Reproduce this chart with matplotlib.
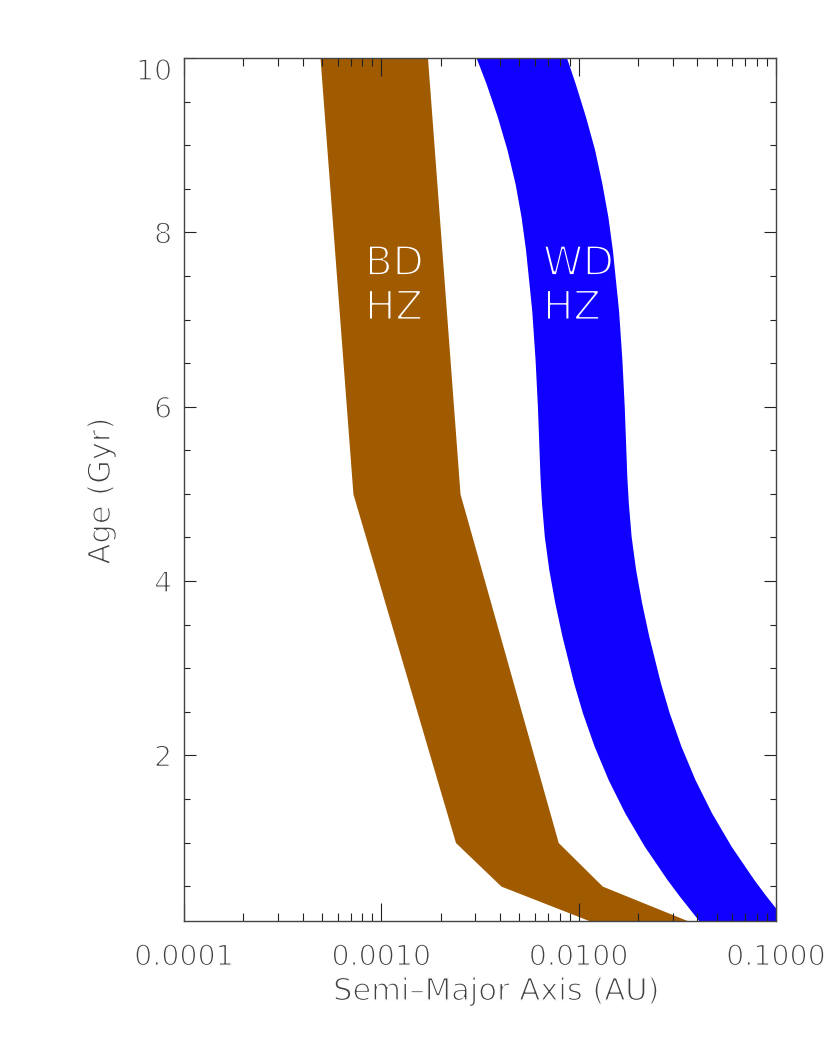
import matplotlib
matplotlib.use("Agg")
import matplotlib.pyplot as plt
import matplotlib.patheffects as pe
from matplotlib.ticker import FixedLocator, NullFormatter, FuncFormatter

# ---- data ----
# Brown dwarf habitable zone (polygon vertices)
bd_age = [10.0, 5.0, 1.0, 0.5, 0.1]
bd_inner = [0.000489, 0.000718, 0.002376, 0.00404, 0.01142]
bd_outer = [0.001714, 0.002505, 0.00788, 0.01318, 0.03594]

# White dwarf habitable zone (edges)
wd_age = [10.0, 9.71, 9.33, 8.95, 8.56, 8.18, 7.80, 7.1, 6.54, 6.0, 5.20, 4.90,
          4.51, 4.13, 3.75, 3.37, 2.83, 2.49, 2.11, 1.72, 1.34, 0.96, 0.58,
          0.39, 0.10]
wd_inner = [0.003027, 0.003390, 0.003866, 0.004331, 0.004761, 0.005105,
            0.005380, 0.005785, 0.006013, 0.006180, 0.006368, 0.006479,
            0.006698, 0.007058, 0.007570, 0.008225, 0.009432, 0.010443,
            0.011958, 0.014122, 0.017126, 0.021488, 0.027945, 0.03228,
            0.04078]
wd_outer = [0.008690, 0.009598, 0.010821, 0.012039, 0.013113, 0.014060,
            0.014818, 0.015933, 0.016561, 0.017021, 0.017539, 0.017845,
            0.018448, 0.019439, 0.020849, 0.022653, 0.025978, 0.028762,
            0.032935, 0.038895, 0.047169, 0.059182, 0.076966, 0.088906,
            0.112316]

xticks = [0.0001, 0.001, 0.01, 0.1]
yticks = [2, 4, 6, 8, 10]

# ---- style ----
BROWN = "#A05A00"
BLUE = "#0F00FF"
TXT = "#404040"
plt.rcParams["font.family"] = ["DejaVu Sans"]


def thin(bg, w=1.0):
    return [pe.Normal(), pe.Stroke(linewidth=w, foreground=bg)]


fig = plt.figure(figsize=(8.30, 10.39), dpi=100)
ax = fig.add_axes([184/830, (1039-921)/1039, (776-184)/830, (921-58)/1039])

ax.fill_betweenx(bd_age, bd_inner, bd_outer, color=BROWN, lw=0, zorder=1)
ax.fill_betweenx(wd_age, wd_inner, wd_outer, color=BLUE, lw=0, zorder=1)

ax.set_xscale("log")
ax.set_xlim(1e-4, 0.1)
ax.set_ylim(0.1, 10)

ax.xaxis.set_major_locator(FixedLocator(xticks))
minors = [m * d for d in [1e-4, 1e-3, 1e-2] for m in range(2, 10)]
ax.xaxis.set_minor_locator(FixedLocator(minors))
ax.xaxis.set_major_formatter(FuncFormatter(lambda v, p: "%.4f" % v))
ax.xaxis.set_minor_formatter(NullFormatter())

ax.yaxis.set_major_locator(FixedLocator(yticks))
ax.yaxis.set_minor_locator(FixedLocator([0.5 * i for i in range(1, 20) if i % 4 != 0]))

for s in ax.spines.values():
    s.set_color("#444444")
    s.set_linewidth(1.0)
    s.set_zorder(3)

ax.tick_params(axis="x", which="major", direction="in", length=12.7, width=0.8,
               color="#222222", top=True, pad=16, labelsize=20.5, labelcolor=TXT)
ax.tick_params(axis="x", which="minor", direction="in", length=6.0, width=0.8,
               color="#222222", top=True)
ax.tick_params(axis="y", which="major", direction="in", length=8.4, width=0.8,
               color="#222222", right=True, pad=8.5, labelsize=20.5, labelcolor=TXT)
ax.tick_params(axis="y", which="minor", direction="in", length=4.3, width=0.8,
               color="#222222", right=True)

for t in ax.xaxis.get_major_ticks() + ax.yaxis.get_major_ticks():
    t.label1.set_path_effects(thin("white"))

ax.yaxis.get_major_ticks()[-1].label1.set_va("top")

ax.set_xlabel("Semi–Major Axis (AU)", fontsize=22, color=TXT,
              path_effects=thin("white"))
ax.set_ylabel("Age (Gyr)", fontsize=22, color=TXT, path_effects=thin("white"))
ax.xaxis.set_label_coords(0.527, -0.065)
ax.yaxis.set_label_coords(-0.115, 0.498)

txt_kw = dict(color="white", fontsize=29, ha="left", va="baseline", zorder=4)
ax.text(0.000827, 7.51, "BD", path_effects=thin(BROWN, 1.4), **txt_kw)
ax.text(0.000827, 7.0, "HZ", path_effects=thin(BROWN, 1.4), **txt_kw)
ax.text(0.0066, 7.51, "WD", path_effects=thin(BLUE, 1.4), **txt_kw)
ax.text(0.0066, 7.0, "HZ", path_effects=thin(BLUE, 1.4), **txt_kw)

fig.savefig("out.png", dpi=100)
